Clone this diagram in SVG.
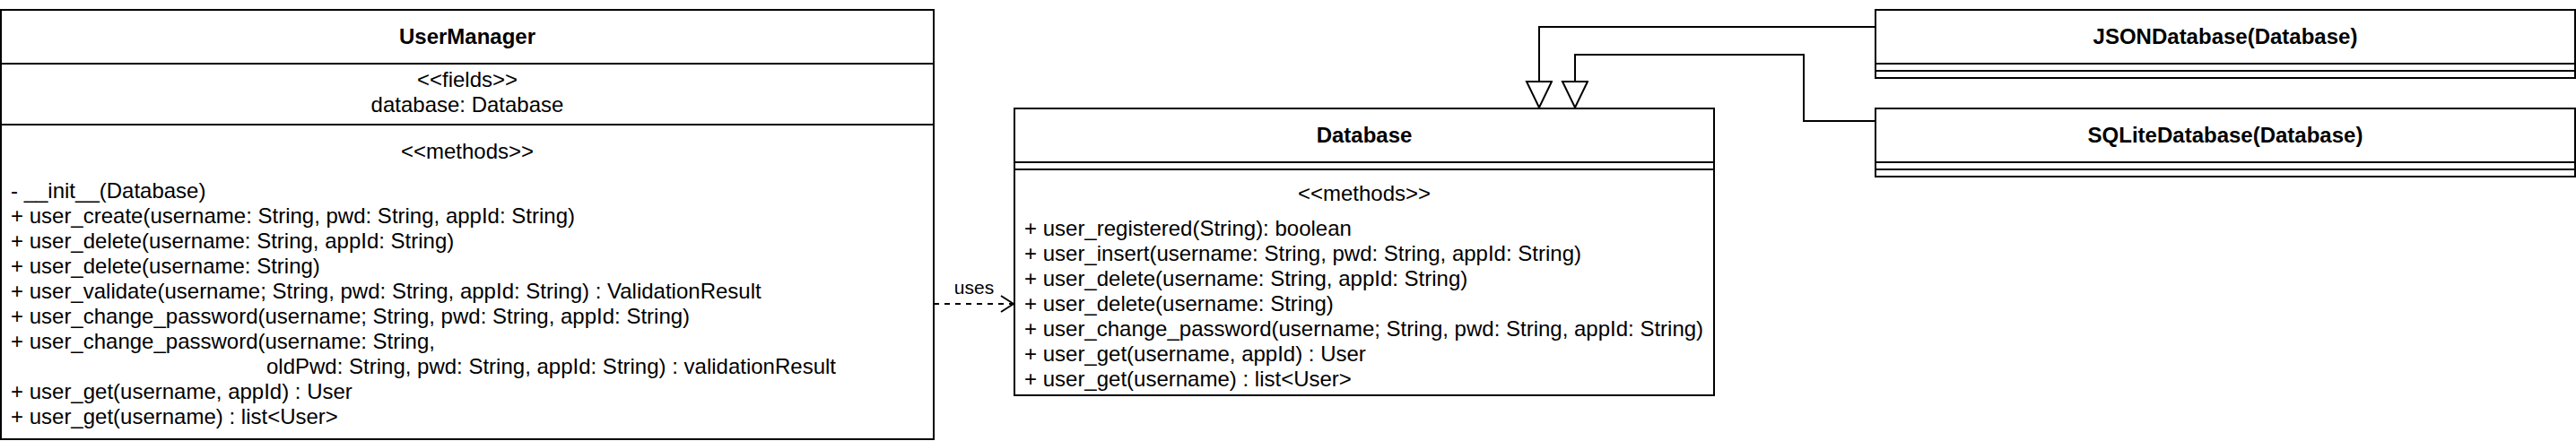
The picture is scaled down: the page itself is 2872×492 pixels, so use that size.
<svg xmlns="http://www.w3.org/2000/svg" width="2872" height="492" viewBox="0 0 2872 492">
<style>
.box{fill:#fff;stroke:#000;stroke-width:2}
.ln{stroke:#000;stroke-width:2;fill:none}
text{font-family:"Liberation Sans",Arial,sans-serif;font-size:24px;fill:#000}
.t{font-weight:bold;text-anchor:middle}
.c{text-anchor:middle}
.lbl{font-size:21px}
</style>
<defs>
<marker id="open" markerUnits="userSpaceOnUse" markerWidth="20" markerHeight="24" refX="17" refY="12" orient="auto">
<path d="M3,3 L17,12 L3,21" fill="none" stroke="#000" stroke-width="2"/>
</marker>
<marker id="tri" markerUnits="userSpaceOnUse" markerWidth="34" markerHeight="34" refX="31" refY="15" orient="auto">
<path d="M2,1 L31,15 L2,29 Z" fill="#fff" stroke="#000" stroke-width="2"/>
</marker>
</defs>
<g id="connectors">
<path class="ln" d="M2091,30 L1716,30 L1716,120" marker-end="url(#tri)"/>
<path class="ln" d="M2091,135 L2011,135 L2011,61 L1756,61 L1756,120" marker-end="url(#tri)"/>
<path class="ln" d="M1041,339 L1130,339" stroke-dasharray="6,6" marker-end="url(#open)"/>
<text class="c lbl" x="1086" y="328">uses</text>
</g>
<g id="UserManager">
<rect class="box" x="1" y="11" width="1040" height="479"/>
<line class="ln" x1="1" y1="71" x2="1041" y2="71"/>
<line class="ln" x1="1" y1="139" x2="1041" y2="139"/>
<text class="t" x="521" y="49">UserManager</text>
<text class="c" x="521" y="97">&lt;&lt;fields&gt;&gt;</text>
<text class="c" x="521" y="125">database: Database</text>
<text class="c" x="521" y="177">&lt;&lt;methods&gt;&gt;</text>
<text x="12" y="221">- __init__(Database)</text>
<text x="12" y="249">+ user_create(username: String, pwd: String, appId: String)</text>
<text x="12" y="277">+ user_delete(username: String, appId: String)</text>
<text x="12" y="305">+ user_delete(username: String)</text>
<text x="12" y="333">+ user_validate(username; String, pwd: String, appId: String) : ValidationResult</text>
<text x="12" y="361">+ user_change_password(username; String, pwd: String, appId: String)</text>
<text x="12" y="389">+ user_change_password(username: String,</text>
<text x="297" y="417">oldPwd: String, pwd: String, appId: String) : validationResult</text>
<text x="12" y="445">+ user_get(username, appId) : User</text>
<text x="12" y="473">+ user_get(username) : list&lt;User&gt;</text>
</g>
<g id="Database">
<rect class="box" x="1131" y="121" width="780" height="320"/>
<line class="ln" x1="1131" y1="181" x2="1911" y2="181"/>
<line class="ln" x1="1131" y1="189" x2="1911" y2="189"/>
<text class="t" x="1521" y="159">Database</text>
<text class="c" x="1521" y="224">&lt;&lt;methods&gt;&gt;</text>
<text x="1142" y="263">+ user_registered(String): boolean</text>
<text x="1142" y="291">+ user_insert(username: String, pwd: String, appId: String)</text>
<text x="1142" y="319">+ user_delete(username: String, appId: String)</text>
<text x="1142" y="347">+ user_delete(username: String)</text>
<text x="1142" y="375">+ user_change_password(username; String, pwd: String, appId: String)</text>
<text x="1142" y="403">+ user_get(username, appId) : User</text>
<text x="1142" y="431">+ user_get(username) : list&lt;User&gt;</text>
</g>
<g id="JSONDatabase">
<rect class="box" x="2091" y="11" width="780" height="76"/>
<line class="ln" x1="2091" y1="71" x2="2871" y2="71"/>
<line class="ln" x1="2091" y1="79" x2="2871" y2="79"/>
<text class="t" x="2481" y="49">JSONDatabase(Database)</text>
</g>
<g id="SQLiteDatabase">
<rect class="box" x="2091" y="121" width="780" height="76"/>
<line class="ln" x1="2091" y1="181" x2="2871" y2="181"/>
<line class="ln" x1="2091" y1="189" x2="2871" y2="189"/>
<text class="t" x="2481" y="159">SQLiteDatabase(Database)</text>
</g>
</svg>
